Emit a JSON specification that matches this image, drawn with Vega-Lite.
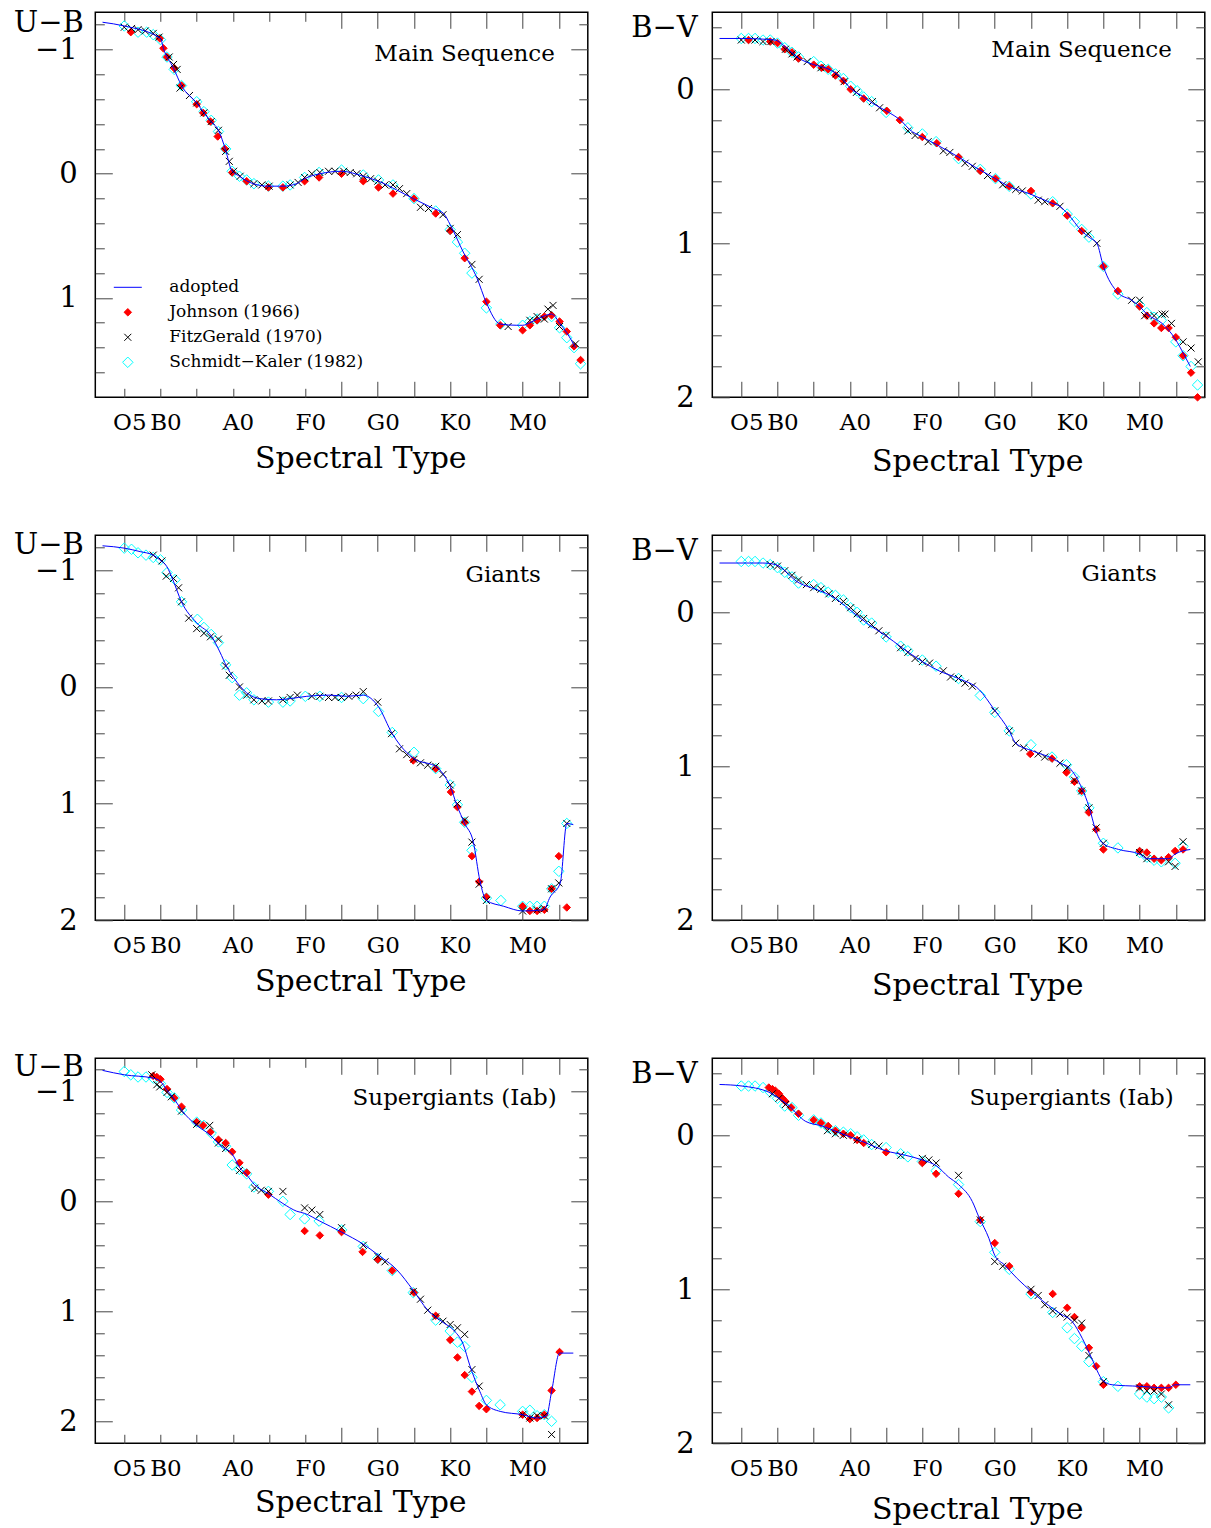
{
"$schema": "https://vega.github.io/schema/vega-lite/v6.json",
"padding": {"left": 12.3, "top": 7.3, "right": 5, "bottom": 5},
"background": "white",
"columns": 2,
"spacing": {"row": 138, "column": 124},
"bounds": "flush",
"resolve": {"scale": {"stroke": "independent", "fill": "independent", "shape": "independent", "size": "independent", "x": "independent", "y": "independent"}},
"datasets": {
"ms_ub": [
{"s":"A","t":2,"v":-1.22},{"s":"A","t":5,"v":-1.19},{"s":"A","t":10,"v":-1.09},{"s":"A","t":10.4,"v":-1.01},{"s":"A","t":11.8,"v":-0.85},{"s":"A","t":12.9,"v":-0.71},{"s":"A","t":15,"v":-0.57},{"s":"A","t":16.8,"v":-0.43},{"s":"A","t":18,"v":-0.35},{"s":"A","t":19,"v":-0.19},{"s":"A","t":19.8,"v":-0.03},{"s":"A","t":20.9,"v":0.02},{"s":"A","t":22.8,"v":0.08},{"s":"A","t":24.9,"v":0.10},{"s":"A","t":26.9,"v":0.10},{"s":"A","t":28.8,"v":0.08},{"s":"A","t":29.9,"v":0.04},{"s":"A","t":32,"v":0.0},{"s":"A","t":35,"v":-0.02},{"s":"A","t":38,"v":0.02},{"s":"A","t":40.1,"v":0.06},{"s":"A","t":42.6,"v":0.13},{"s":"A","t":44.9,"v":0.20},{"s":"A","t":47.7,"v":0.28},{"s":"A","t":49.1,"v":0.32},{"s":"A","t":50,"v":0.41},{"s":"A","t":51.8,"v":0.63},{"s":"A","t":53.7,"v":0.84},{"s":"A","t":55,"v":1.04},{"s":"A","t":56.9,"v":1.21},{"s":"A","t":59.2,"v":1.22},{"s":"A","t":60,"v":1.22},{"s":"A","t":61,"v":1.20},{"s":"A","t":62.4,"v":1.16},{"s":"A","t":64,"v":1.13},{"s":"A","t":65.2,"v":1.21},{"s":"A","t":66.1,"v":1.28},{"s":"A","t":67.3,"v":1.40},
{"s":"S","t":5,"v":-1.19},{"s":"S","t":6.9,"v":-1.14},{"s":"S","t":8.1,"v":-1.14},{"s":"S","t":9,"v":-1.12},{"s":"S","t":10,"v":-1.08},{"s":"S","t":10.9,"v":-0.94},{"s":"S","t":11.9,"v":-0.84},{"s":"S","t":12.9,"v":-0.71},{"s":"S","t":15,"v":-0.58},{"s":"S","t":16,"v":-0.50},{"s":"S","t":17,"v":-0.43},{"s":"S","t":18,"v":-0.34},{"s":"S","t":19,"v":-0.20},{"s":"S","t":19.9,"v":-0.02},{"s":"S","t":20.9,"v":0.02},{"s":"S","t":21.9,"v":0.05},{"s":"S","t":22.9,"v":0.08},{"s":"S","t":24.9,"v":0.10},{"s":"S","t":26.9,"v":0.10},{"s":"S","t":27.9,"v":0.09},{"s":"S","t":29.9,"v":0.03},{"s":"S","t":31.9,"v":-0.01},{"s":"S","t":35,"v":-0.03},{"s":"S","t":38,"v":0.01},{"s":"S","t":40.1,"v":0.05},{"s":"S","t":42.1,"v":0.09},{"s":"S","t":45,"v":0.20},{"s":"S","t":48,"v":0.30},{"s":"S","t":50,"v":0.45},{"s":"S","t":51,"v":0.55},{"s":"S","t":52,"v":0.64},{"s":"S","t":53,"v":0.80},{"s":"S","t":55,"v":1.08},{"s":"S","t":57,"v":1.21},{"s":"S","t":60,"v":1.22},{"s":"S","t":61,"v":1.19},{"s":"S","t":62,"v":1.17},{"s":"S","t":64,"v":1.15},{"s":"S","t":65.1,"v":1.24},{"s":"S","t":66.1,"v":1.32},{"s":"S","t":67.1,"v":1.40},{"s":"S","t":68,"v":1.53},
{"s":"J","t":5.9,"v":-1.14},{"s":"J","t":9.9,"v":-1.09},{"s":"J","t":10.4,"v":-1.01},{"s":"J","t":10.9,"v":-0.94},{"s":"J","t":11.9,"v":-0.85},{"s":"J","t":12.9,"v":-0.71},{"s":"J","t":15,"v":-0.56},{"s":"J","t":15.9,"v":-0.49},{"s":"J","t":16.9,"v":-0.42},{"s":"J","t":17.9,"v":-0.30},{"s":"J","t":18.9,"v":-0.20},{"s":"J","t":19.9,"v":-0.01},{"s":"J","t":21.9,"v":0.06},{"s":"J","t":24.9,"v":0.11},{"s":"J","t":26.9,"v":0.11},{"s":"J","t":29.9,"v":0.06},{"s":"J","t":31.9,"v":0.03},{"s":"J","t":35,"v":0.0},{"s":"J","t":38,"v":0.06},{"s":"J","t":40.1,"v":0.11},{"s":"J","t":42.1,"v":0.16},{"s":"J","t":45,"v":0.20},{"s":"J","t":48,"v":0.32},{"s":"J","t":50,"v":0.46},{"s":"J","t":52,"v":0.68},{"s":"J","t":55,"v":1.03},{"s":"J","t":56.9,"v":1.22},{"s":"J","t":60,"v":1.26},{"s":"J","t":61,"v":1.22},{"s":"J","t":62,"v":1.18},{"s":"J","t":63,"v":1.15},{"s":"J","t":64,"v":1.14},{"s":"J","t":65.1,"v":1.19},{"s":"J","t":66.1,"v":1.27},{"s":"J","t":67.1,"v":1.39},{"s":"J","t":68,"v":1.50},
{"s":"F","t":5,"v":-1.18},{"s":"F","t":6,"v":-1.17},{"s":"F","t":6.9,"v":-1.16},{"s":"F","t":7.9,"v":-1.15},{"s":"F","t":9,"v":-1.13},{"s":"F","t":9.8,"v":-1.10},{"s":"F","t":11.2,"v":-0.94},{"s":"F","t":11.8,"v":-0.88},{"s":"F","t":12.3,"v":-0.84},{"s":"F","t":12.7,"v":-0.69},{"s":"F","t":14,"v":-0.63},{"s":"F","t":15,"v":-0.57},{"s":"F","t":16,"v":-0.49},{"s":"F","t":17,"v":-0.42},{"s":"F","t":18,"v":-0.35},{"s":"F","t":19,"v":-0.18},{"s":"F","t":19.5,"v":-0.10},{"s":"F","t":20.1,"v":-0.02},{"s":"F","t":21,"v":0.02},{"s":"F","t":22.9,"v":0.08},{"s":"F","t":24,"v":0.09},{"s":"F","t":25,"v":0.10},{"s":"F","t":27.9,"v":0.09},{"s":"F","t":29,"v":0.07},{"s":"F","t":29.9,"v":0.03},{"s":"F","t":30.9,"v":0.0},{"s":"F","t":32,"v":-0.01},{"s":"F","t":33.2,"v":-0.02},{"s":"F","t":34.1,"v":-0.02},{"s":"F","t":35.3,"v":-0.02},{"s":"F","t":36.2,"v":-0.01},{"s":"F","t":37.1,"v":0.0},{"s":"F","t":38,"v":0.02},{"s":"F","t":39,"v":0.04},{"s":"F","t":40,"v":0.06},{"s":"F","t":41,"v":0.09},{"s":"F","t":42.1,"v":0.09},{"s":"F","t":43,"v":0.12},{"s":"F","t":44,"v":0.16},{"s":"F","t":45.9,"v":0.27},{"s":"F","t":47,"v":0.28},{"s":"F","t":49,"v":0.33},{"s":"F","t":50,"v":0.44},{"s":"F","t":51,"v":0.49},{"s":"F","t":53,"v":0.73},{"s":"F","t":54,"v":0.85},{"s":"F","t":58,"v":1.23},{"s":"F","t":61,"v":1.18},{"s":"F","t":62,"v":1.15},{"s":"F","t":63,"v":1.17},{"s":"F","t":63.5,"v":1.09},{"s":"F","t":64.2,"v":1.06},{"s":"F","t":65.1,"v":1.23},{"s":"F","t":67.3,"v":1.37}
],
"ms_bv": [
{"s":"A","t":2,"v":-0.33},{"s":"A","t":5,"v":-0.33},{"s":"A","t":9.7,"v":-0.32},{"s":"A","t":10.7,"v":-0.29},{"s":"A","t":13,"v":-0.20},{"s":"A","t":15,"v":-0.16},{"s":"A","t":17.1,"v":-0.13},{"s":"A","t":18.9,"v":-0.07},{"s":"A","t":20.1,"v":-0.005},{"s":"A","t":21.9,"v":0.05},{"s":"A","t":23.1,"v":0.09},{"s":"A","t":25,"v":0.14},{"s":"A","t":27.2,"v":0.21},{"s":"A","t":28.2,"v":0.26},{"s":"A","t":30,"v":0.31},{"s":"A","t":32,"v":0.36},{"s":"A","t":35,"v":0.44},{"s":"A","t":37.8,"v":0.52},{"s":"A","t":40.1,"v":0.58},{"s":"A","t":41.9,"v":0.63},{"s":"A","t":44.9,"v":0.68},{"s":"A","t":47.9,"v":0.74},{"s":"A","t":49,"v":0.76},{"s":"A","t":50.1,"v":0.81},{"s":"A","t":52,"v":0.92},{"s":"A","t":53,"v":0.96},{"s":"A","t":54.1,"v":1.0},{"s":"A","t":55,"v":1.15},{"s":"A","t":57,"v":1.32},{"s":"A","t":58.9,"v":1.37},{"s":"A","t":60,"v":1.41},{"s":"A","t":61,"v":1.46},{"s":"A","t":63.1,"v":1.52},{"s":"A","t":64.9,"v":1.62},{"s":"A","t":66.1,"v":1.72},{"s":"A","t":67,"v":1.80},
{"s":"S","t":5,"v":-0.33},{"s":"S","t":6,"v":-0.33},{"s":"S","t":6.9,"v":-0.33},{"s":"S","t":8,"v":-0.32},{"s":"S","t":9,"v":-0.32},{"s":"S","t":10,"v":-0.30},{"s":"S","t":11,"v":-0.27},{"s":"S","t":12,"v":-0.24},{"s":"S","t":12.9,"v":-0.21},{"s":"S","t":15,"v":-0.18},{"s":"S","t":16,"v":-0.15},{"s":"S","t":17,"v":-0.13},{"s":"S","t":18,"v":-0.10},{"s":"S","t":19.1,"v":-0.07},{"s":"S","t":20.1,"v":-0.02},{"s":"S","t":21,"v":0.01},{"s":"S","t":21.9,"v":0.05},{"s":"S","t":23,"v":0.08},{"s":"S","t":25,"v":0.15},{"s":"S","t":28,"v":0.25},{"s":"S","t":30,"v":0.29},{"s":"S","t":31.9,"v":0.34},{"s":"S","t":35,"v":0.45},{"s":"S","t":38,"v":0.52},{"s":"S","t":40.1,"v":0.58},{"s":"S","t":42,"v":0.63},{"s":"S","t":45,"v":0.68},{"s":"S","t":48,"v":0.73},{"s":"S","t":50,"v":0.81},{"s":"S","t":51,"v":0.86},{"s":"S","t":52,"v":0.91},{"s":"S","t":53,"v":0.96},{"s":"S","t":55,"v":1.15},{"s":"S","t":57,"v":1.33},{"s":"S","t":60,"v":1.40},{"s":"S","t":61,"v":1.45},{"s":"S","t":62,"v":1.48},{"s":"S","t":63,"v":1.50},{"s":"S","t":65,"v":1.64},{"s":"S","t":66,"v":1.73},{"s":"S","t":67.1,"v":1.80},{"s":"S","t":68,"v":1.92},
{"s":"J","t":6,"v":-0.32},{"s":"J","t":9,"v":-0.31},{"s":"J","t":10,"v":-0.30},{"s":"J","t":11,"v":-0.26},{"s":"J","t":12,"v":-0.24},{"s":"J","t":12.9,"v":-0.20},{"s":"J","t":15,"v":-0.16},{"s":"J","t":16.1,"v":-0.14},{"s":"J","t":17,"v":-0.13},{"s":"J","t":18,"v":-0.09},{"s":"J","t":19.1,"v":-0.055},{"s":"J","t":20.1,"v":0.0},{"s":"J","t":21.9,"v":0.06},{"s":"J","t":25.1,"v":0.14},{"s":"J","t":26.9,"v":0.20},{"s":"J","t":30,"v":0.31},{"s":"J","t":32,"v":0.35},{"s":"J","t":35,"v":0.44},{"s":"J","t":38,"v":0.53},{"s":"J","t":40.1,"v":0.58},{"s":"J","t":42,"v":0.63},{"s":"J","t":45,"v":0.66},{"s":"J","t":48,"v":0.74},{"s":"J","t":50,"v":0.82},{"s":"J","t":52,"v":0.92},{"s":"J","t":55,"v":1.15},{"s":"J","t":57,"v":1.31},{"s":"J","t":60,"v":1.41},{"s":"J","t":61,"v":1.47},{"s":"J","t":62,"v":1.52},{"s":"J","t":63,"v":1.55},{"s":"J","t":64,"v":1.55},{"s":"J","t":65,"v":1.61},{"s":"J","t":66,"v":1.73},{"s":"J","t":67.1,"v":1.84},{"s":"J","t":68,"v":2.0},
{"s":"F","t":5,"v":-0.32},{"s":"F","t":6.9,"v":-0.32},{"s":"F","t":8,"v":-0.31},{"s":"F","t":9.1,"v":-0.31},{"s":"F","t":11.1,"v":-0.26},{"s":"F","t":12,"v":-0.23},{"s":"F","t":12.7,"v":-0.21},{"s":"F","t":14.1,"v":-0.18},{"s":"F","t":16,"v":-0.14},{"s":"F","t":18.1,"v":-0.10},{"s":"F","t":19.2,"v":-0.05},{"s":"F","t":20.9,"v":0.02},{"s":"F","t":23.1,"v":0.08},{"s":"F","t":24.1,"v":0.12},{"s":"F","t":28,"v":0.27},{"s":"F","t":29,"v":0.30},{"s":"F","t":30.8,"v":0.34},{"s":"F","t":32.9,"v":0.40},{"s":"F","t":33.8,"v":0.41},{"s":"F","t":35.9,"v":0.48},{"s":"F","t":36.9,"v":0.50},{"s":"F","t":39,"v":0.56},{"s":"F","t":41.1,"v":0.62},{"s":"F","t":42.9,"v":0.65},{"s":"F","t":43.8,"v":0.66},{"s":"F","t":46,"v":0.72},{"s":"F","t":46.9,"v":0.73},{"s":"F","t":49,"v":0.76},{"s":"F","t":52.9,"v":0.94},{"s":"F","t":54.1,"v":1.0},{"s":"F","t":58.9,"v":1.37},{"s":"F","t":60,"v":1.37},{"s":"F","t":60.7,"v":1.47},{"s":"F","t":62,"v":1.47},{"s":"F","t":63.1,"v":1.46},{"s":"F","t":63.5,"v":1.46},{"s":"F","t":64.4,"v":1.52},{"s":"F","t":66,"v":1.64},{"s":"F","t":67.1,"v":1.68},{"s":"F","t":68.1,"v":1.77}
],
"g_ub": [
{"s":"A","t":2,"v":-1.21},{"s":"A","t":5,"v":-1.19},{"s":"A","t":7.2,"v":-1.16},{"s":"A","t":9,"v":-1.13},{"s":"A","t":9.9,"v":-1.09},{"s":"A","t":10.9,"v":-1.03},{"s":"A","t":11.7,"v":-0.92},{"s":"A","t":12.9,"v":-0.73},{"s":"A","t":15,"v":-0.55},{"s":"A","t":17.1,"v":-0.43},{"s":"A","t":18.2,"v":-0.30},{"s":"A","t":19.1,"v":-0.18},{"s":"A","t":20.1,"v":-0.08},{"s":"A","t":21.9,"v":0.05},{"s":"A","t":23.7,"v":0.10},{"s":"A","t":26,"v":0.11},{"s":"A","t":27.9,"v":0.10},{"s":"A","t":30.2,"v":0.08},{"s":"A","t":33.4,"v":0.07},{"s":"A","t":35.7,"v":0.08},{"s":"A","t":38,"v":0.07},{"s":"A","t":40.1,"v":0.17},{"s":"A","t":42,"v":0.40},{"s":"A","t":43.1,"v":0.50},{"s":"A","t":44.9,"v":0.61},{"s":"A","t":48.2,"v":0.69},{"s":"A","t":49.3,"v":0.77},{"s":"A","t":50,"v":0.85},{"s":"A","t":50.9,"v":1.01},{"s":"A","t":52,"v":1.17},{"s":"A","t":53.2,"v":1.33},{"s":"A","t":54.1,"v":1.66},{"s":"A","t":55,"v":1.83},{"s":"A","t":57.4,"v":1.88},{"s":"A","t":60,"v":1.92},{"s":"A","t":62.9,"v":1.91},{"s":"A","t":63.8,"v":1.80},{"s":"A","t":65.2,"v":1.68},{"s":"A","t":66.1,"v":1.17},{"s":"A","t":67,"v":1.18},
{"s":"S","t":5,"v":-1.19},{"s":"S","t":6,"v":-1.18},{"s":"S","t":6.9,"v":-1.15},{"s":"S","t":8,"v":-1.13},{"s":"S","t":9,"v":-1.11},{"s":"S","t":10,"v":-1.09},{"s":"S","t":10.9,"v":-0.98},{"s":"S","t":12,"v":-0.92},{"s":"S","t":12.9,"v":-0.73},{"s":"S","t":15.1,"v":-0.58},{"s":"S","t":16,"v":-0.51},{"s":"S","t":17,"v":-0.45},{"s":"S","t":18,"v":-0.38},{"s":"S","t":19,"v":-0.19},{"s":"S","t":19.9,"v":-0.08},{"s":"S","t":20.9,"v":0.07},{"s":"S","t":21.9,"v":0.05},{"s":"S","t":22.9,"v":0.11},{"s":"S","t":24.9,"v":0.13},{"s":"S","t":26.9,"v":0.13},{"s":"S","t":27.9,"v":0.12},{"s":"S","t":30,"v":0.08},{"s":"S","t":32,"v":0.08},{"s":"S","t":35,"v":0.09},{"s":"S","t":38,"v":0.10},{"s":"S","t":40.1,"v":0.21},{"s":"S","t":42,"v":0.39},{"s":"S","t":45,"v":0.56},{"s":"S","t":48,"v":0.70},{"s":"S","t":50,"v":0.84},{"s":"S","t":51,"v":1.01},{"s":"S","t":52,"v":1.16},{"s":"S","t":53,"v":1.40},{"s":"S","t":55,"v":1.81},{"s":"S","t":57,"v":1.83},{"s":"S","t":60,"v":1.88},{"s":"S","t":61,"v":1.88},{"s":"S","t":62,"v":1.88},{"s":"S","t":63,"v":1.88},{"s":"S","t":64,"v":1.73},{"s":"S","t":65,"v":1.58},{"s":"S","t":66.1,"v":1.17},
{"s":"J","t":44.9,"v":0.63},{"s":"J","t":48,"v":0.70},{"s":"J","t":50.1,"v":0.90},{"s":"J","t":51,"v":1.03},{"s":"J","t":52,"v":1.16},{"s":"J","t":53,"v":1.45},{"s":"J","t":54,"v":1.67},{"s":"J","t":55,"v":1.80},{"s":"J","t":60,"v":1.88},{"s":"J","t":61,"v":1.92},{"s":"J","t":62,"v":1.92},{"s":"J","t":63,"v":1.91},{"s":"J","t":64,"v":1.73},{"s":"J","t":65,"v":1.45},{"s":"J","t":66.1,"v":1.89},
{"s":"F","t":9,"v":-1.13},{"s":"F","t":10.2,"v":-1.08},{"s":"F","t":10.8,"v":-0.95},{"s":"F","t":11.8,"v":-0.93},{"s":"F","t":12.5,"v":-0.85},{"s":"F","t":12.9,"v":-0.73},{"s":"F","t":13.9,"v":-0.59},{"s":"F","t":15,"v":-0.50},{"s":"F","t":16,"v":-0.46},{"s":"F","t":16.9,"v":-0.43},{"s":"F","t":18,"v":-0.41},{"s":"F","t":19,"v":-0.18},{"s":"F","t":19.5,"v":-0.10},{"s":"F","t":20.9,"v":0.0},{"s":"F","t":21.9,"v":0.07},{"s":"F","t":22.9,"v":0.11},{"s":"F","t":24,"v":0.12},{"s":"F","t":24.9,"v":0.12},{"s":"F","t":26.9,"v":0.11},{"s":"F","t":27.9,"v":0.09},{"s":"F","t":28.9,"v":0.07},{"s":"F","t":30.9,"v":0.08},{"s":"F","t":32,"v":0.08},{"s":"F","t":33.2,"v":0.09},{"s":"F","t":34.1,"v":0.09},{"s":"F","t":35,"v":0.09},{"s":"F","t":36,"v":0.08},{"s":"F","t":37,"v":0.07},{"s":"F","t":38,"v":0.04},{"s":"F","t":40,"v":0.13},{"s":"F","t":41.9,"v":0.40},{"s":"F","t":43,"v":0.53},{"s":"F","t":44,"v":0.58},{"s":"F","t":45,"v":0.62},{"s":"F","t":45.9,"v":0.65},{"s":"F","t":46.9,"v":0.67},{"s":"F","t":48,"v":0.68},{"s":"F","t":49,"v":0.75},{"s":"F","t":50,"v":0.84},{"s":"F","t":51,"v":1.0},{"s":"F","t":52,"v":1.14},{"s":"F","t":53,"v":1.33},{"s":"F","t":54,"v":1.69},{"s":"F","t":55,"v":1.83},{"s":"F","t":60,"v":1.92},{"s":"F","t":62,"v":1.91},{"s":"F","t":63,"v":1.90},{"s":"F","t":64,"v":1.73},{"s":"F","t":65,"v":1.68},{"s":"F","t":66.1,"v":1.17}
],
"g_bv": [
{"s":"A","t":2,"v":-0.32},{"s":"A","t":7.9,"v":-0.32},{"s":"A","t":9.7,"v":-0.31},{"s":"A","t":13,"v":-0.19},{"s":"A","t":15.3,"v":-0.15},{"s":"A","t":18,"v":-0.09},{"s":"A","t":19.9,"v":-0.02},{"s":"A","t":22.6,"v":0.08},{"s":"A","t":24.9,"v":0.15},{"s":"A","t":27.2,"v":0.23},{"s":"A","t":30,"v":0.32},{"s":"A","t":32.3,"v":0.38},{"s":"A","t":35,"v":0.43},{"s":"A","t":37.8,"v":0.50},{"s":"A","t":39.9,"v":0.63},{"s":"A","t":42,"v":0.77},{"s":"A","t":42.9,"v":0.85},{"s":"A","t":45.2,"v":0.90},{"s":"A","t":48,"v":0.95},{"s":"A","t":49.1,"v":0.98},{"s":"A","t":50.3,"v":1.01},{"s":"A","t":52.1,"v":1.15},{"s":"A","t":53,"v":1.26},{"s":"A","t":53.9,"v":1.41},{"s":"A","t":54.9,"v":1.50},{"s":"A","t":57.1,"v":1.54},{"s":"A","t":60,"v":1.57},{"s":"A","t":61,"v":1.60},{"s":"A","t":64,"v":1.60},{"s":"A","t":64.9,"v":1.57},{"s":"A","t":67,"v":1.54},
{"s":"S","t":5,"v":-0.33},{"s":"S","t":6,"v":-0.33},{"s":"S","t":6.9,"v":-0.33},{"s":"S","t":8,"v":-0.32},{"s":"S","t":9,"v":-0.31},{"s":"S","t":10,"v":-0.29},{"s":"S","t":11,"v":-0.26},{"s":"S","t":12,"v":-0.23},{"s":"S","t":12.9,"v":-0.19},{"s":"S","t":15,"v":-0.18},{"s":"S","t":16,"v":-0.16},{"s":"S","t":17,"v":-0.13},{"s":"S","t":18,"v":-0.11},{"s":"S","t":19.1,"v":-0.08},{"s":"S","t":20.1,"v":-0.03},{"s":"S","t":21,"v":0.0},{"s":"S","t":21.9,"v":0.05},{"s":"S","t":23,"v":0.07},{"s":"S","t":25,"v":0.16},{"s":"S","t":27,"v":0.22},{"s":"S","t":28,"v":0.25},{"s":"S","t":30,"v":0.31},{"s":"S","t":31.9,"v":0.35},{"s":"S","t":35,"v":0.43},{"s":"S","t":38,"v":0.54},{"s":"S","t":40,"v":0.65},{"s":"S","t":42,"v":0.77},{"s":"S","t":45,"v":0.86},{"s":"S","t":47.9,"v":0.94},{"s":"S","t":49.9,"v":0.99},{"s":"S","t":51,"v":1.07},{"s":"S","t":52,"v":1.16},{"s":"S","t":53,"v":1.27},{"s":"S","t":55,"v":1.50},{"s":"S","t":57,"v":1.53},{"s":"S","t":60,"v":1.56},{"s":"S","t":61,"v":1.59},{"s":"S","t":62,"v":1.61},{"s":"S","t":63,"v":1.62},{"s":"S","t":64.9,"v":1.63},{"s":"S","t":66,"v":1.52},
{"s":"J","t":44.9,"v":0.92},{"s":"J","t":47.9,"v":0.95},{"s":"J","t":49.9,"v":1.04},{"s":"J","t":51,"v":1.10},{"s":"J","t":52,"v":1.16},{"s":"J","t":53,"v":1.30},{"s":"J","t":54,"v":1.41},{"s":"J","t":55,"v":1.54},{"s":"J","t":60,"v":1.55},{"s":"J","t":61,"v":1.56},{"s":"J","t":62,"v":1.60},{"s":"J","t":63,"v":1.61},{"s":"J","t":64,"v":1.59},{"s":"J","t":64.9,"v":1.55},{"s":"J","t":66,"v":1.54},
{"s":"F","t":9,"v":-0.31},{"s":"F","t":10,"v":-0.30},{"s":"F","t":11,"v":-0.27},{"s":"F","t":12,"v":-0.24},{"s":"F","t":12.9,"v":-0.21},{"s":"F","t":14,"v":-0.18},{"s":"F","t":15,"v":-0.16},{"s":"F","t":16,"v":-0.15},{"s":"F","t":17.1,"v":-0.12},{"s":"F","t":18,"v":-0.09},{"s":"F","t":19.1,"v":-0.07},{"s":"F","t":20.1,"v":-0.03},{"s":"F","t":21,"v":0.01},{"s":"F","t":21.9,"v":0.04},{"s":"F","t":23,"v":0.08},{"s":"F","t":24,"v":0.12},{"s":"F","t":25,"v":0.15},{"s":"F","t":27,"v":0.23},{"s":"F","t":28,"v":0.26},{"s":"F","t":29,"v":0.30},{"s":"F","t":30,"v":0.32},{"s":"F","t":31,"v":0.33},{"s":"F","t":32.9,"v":0.38},{"s":"F","t":33.9,"v":0.42},{"s":"F","t":35,"v":0.43},{"s":"F","t":35.9,"v":0.46},{"s":"F","t":36.9,"v":0.48},{"s":"F","t":40,"v":0.64},{"s":"F","t":42,"v":0.77},{"s":"F","t":42.9,"v":0.85},{"s":"F","t":44,"v":0.88},{"s":"F","t":46,"v":0.92},{"s":"F","t":46.9,"v":0.94},{"s":"F","t":49,"v":0.98},{"s":"F","t":50,"v":1.01},{"s":"F","t":51,"v":1.09},{"s":"F","t":52,"v":1.16},{"s":"F","t":53,"v":1.27},{"s":"F","t":54,"v":1.40},{"s":"F","t":55,"v":1.50},{"s":"F","t":60,"v":1.56},{"s":"F","t":61,"v":1.60},{"s":"F","t":64,"v":1.62},{"s":"F","t":64.9,"v":1.65},{"s":"F","t":66,"v":1.49}
],
"sg_ub": [
{"s":"A","t":2,"v":-1.19},{"s":"A","t":5,"v":-1.15},{"s":"A","t":9,"v":-1.12},{"s":"A","t":10,"v":-1.09},{"s":"A","t":10.9,"v":-1.01},{"s":"A","t":11.8,"v":-0.94},{"s":"A","t":12.9,"v":-0.83},{"s":"A","t":15,"v":-0.69},{"s":"A","t":16.9,"v":-0.60},{"s":"A","t":18.2,"v":-0.51},{"s":"A","t":20,"v":-0.42},{"s":"A","t":20.9,"v":-0.31},{"s":"A","t":21.9,"v":-0.24},{"s":"A","t":23,"v":-0.15},{"s":"A","t":24.9,"v":-0.07},{"s":"A","t":26.9,"v":0.02},{"s":"A","t":28.8,"v":0.09},{"s":"A","t":29.9,"v":0.11},{"s":"A","t":32,"v":0.18},{"s":"A","t":35,"v":0.28},{"s":"A","t":38,"v":0.39},{"s":"A","t":40.1,"v":0.49},{"s":"A","t":42.6,"v":0.62},{"s":"A","t":44.9,"v":0.81},{"s":"A","t":46.9,"v":0.99},{"s":"A","t":49,"v":1.10},{"s":"A","t":50.6,"v":1.18},{"s":"A","t":51.8,"v":1.30},{"s":"A","t":52.7,"v":1.49},{"s":"A","t":54.1,"v":1.73},{"s":"A","t":55,"v":1.85},{"s":"A","t":56.9,"v":1.91},{"s":"A","t":60,"v":1.94},{"s":"A","t":61.9,"v":1.97},{"s":"A","t":63.3,"v":1.95},{"s":"A","t":64,"v":1.73},{"s":"A","t":65.1,"v":1.38},{"s":"A","t":67,"v":1.38},
{"s":"S","t":5,"v":-1.18},{"s":"S","t":5.9,"v":-1.15},{"s":"S","t":6.9,"v":-1.13},{"s":"S","t":8,"v":-1.13},{"s":"S","t":9,"v":-1.12},{"s":"S","t":10,"v":-1.07},{"s":"S","t":10.9,"v":-0.99},{"s":"S","t":11.9,"v":-0.94},{"s":"S","t":12.9,"v":-0.83},{"s":"S","t":15,"v":-0.72},{"s":"S","t":16,"v":-0.69},{"s":"S","t":17,"v":-0.62},{"s":"S","t":18,"v":-0.54},{"s":"S","t":19,"v":-0.50},{"s":"S","t":19.9,"v":-0.33},{"s":"S","t":20.9,"v":-0.29},{"s":"S","t":21.9,"v":-0.25},{"s":"S","t":22.9,"v":-0.13},{"s":"S","t":24.9,"v":-0.09},{"s":"S","t":26.9,"v":0.0},{"s":"S","t":27.9,"v":0.12},{"s":"S","t":29.9,"v":0.16},{"s":"S","t":31.9,"v":0.18},{"s":"S","t":35,"v":0.26},{"s":"S","t":38,"v":0.41},{"s":"S","t":40,"v":0.52},{"s":"S","t":42,"v":0.63},{"s":"S","t":44.9,"v":0.83},{"s":"S","t":48,"v":1.08},{"s":"S","t":50,"v":1.18},{"s":"S","t":51,"v":1.28},{"s":"S","t":52,"v":1.32},{"s":"S","t":53,"v":1.60},{"s":"S","t":55,"v":1.81},{"s":"S","t":56.9,"v":1.85},{"s":"S","t":60,"v":1.91},{"s":"S","t":61,"v":1.90},{"s":"S","t":62,"v":1.95},{"s":"S","t":63,"v":1.94},{"s":"S","t":64,"v":2.0},
{"s":"J","t":9,"v":-1.14},{"s":"J","t":9.5,"v":-1.13},{"s":"J","t":10,"v":-1.11},{"s":"J","t":10.9,"v":-1.02},{"s":"J","t":11.9,"v":-0.94},{"s":"J","t":12.9,"v":-0.86},{"s":"J","t":15,"v":-0.72},{"s":"J","t":15.9,"v":-0.69},{"s":"J","t":16.9,"v":-0.63},{"s":"J","t":18,"v":-0.56},{"s":"J","t":19,"v":-0.53},{"s":"J","t":19.9,"v":-0.45},{"s":"J","t":20.9,"v":-0.35},{"s":"J","t":21.9,"v":-0.26},{"s":"J","t":24.9,"v":-0.06},{"s":"J","t":29.9,"v":0.27},{"s":"J","t":32,"v":0.31},{"s":"J","t":35,"v":0.28},{"s":"J","t":37.9,"v":0.46},{"s":"J","t":40,"v":0.53},{"s":"J","t":42,"v":0.63},{"s":"J","t":45,"v":0.83},{"s":"J","t":48,"v":1.04},{"s":"J","t":50,"v":1.26},{"s":"J","t":51,"v":1.42},{"s":"J","t":52,"v":1.58},{"s":"J","t":53,"v":1.73},{"s":"J","t":54,"v":1.86},{"s":"J","t":55,"v":1.89},{"s":"J","t":60,"v":1.94},{"s":"J","t":61,"v":1.98},{"s":"J","t":62,"v":1.97},{"s":"J","t":63,"v":1.94},{"s":"J","t":64,"v":1.72},{"s":"J","t":65.1,"v":1.37},
{"s":"F","t":8.8,"v":-1.15},{"s":"F","t":9.5,"v":-1.06},{"s":"F","t":9.9,"v":-1.04},{"s":"F","t":10.9,"v":-0.99},{"s":"F","t":11.5,"v":-0.95},{"s":"F","t":12.9,"v":-0.82},{"s":"F","t":15,"v":-0.70},{"s":"F","t":16.8,"v":-0.69},{"s":"F","t":18,"v":-0.53},{"s":"F","t":19,"v":-0.48},{"s":"F","t":20.9,"v":-0.28},{"s":"F","t":23,"v":-0.12},{"s":"F","t":23.9,"v":-0.10},{"s":"F","t":24.9,"v":-0.09},{"s":"F","t":26.9,"v":-0.09},{"s":"F","t":29.9,"v":0.06},{"s":"F","t":30.9,"v":0.08},{"s":"F","t":32,"v":0.12},{"s":"F","t":35,"v":0.24},{"s":"F","t":38,"v":0.40},{"s":"F","t":40,"v":0.50},{"s":"F","t":41,"v":0.55},{"s":"F","t":44.9,"v":0.82},{"s":"F","t":45.9,"v":0.89},{"s":"F","t":46.9,"v":0.99},{"s":"F","t":48,"v":1.05},{"s":"F","t":49,"v":1.09},{"s":"F","t":50,"v":1.12},{"s":"F","t":51,"v":1.15},{"s":"F","t":52,"v":1.21},{"s":"F","t":53,"v":1.53},{"s":"F","t":54,"v":1.68},{"s":"F","t":60,"v":1.94},{"s":"F","t":61,"v":1.97},{"s":"F","t":62,"v":1.95},{"s":"F","t":63,"v":1.95},{"s":"F","t":64,"v":2.12}
],
"sg_bv": [
{"s":"A","t":2,"v":-0.33},{"s":"A","t":5.1,"v":-0.32},{"s":"A","t":8.8,"v":-0.28},{"s":"A","t":10.2,"v":-0.24},{"s":"A","t":11.6,"v":-0.19},{"s":"A","t":13.9,"v":-0.09},{"s":"A","t":16.2,"v":-0.06},{"s":"A","t":18.9,"v":-0.01},{"s":"A","t":21.7,"v":0.04},{"s":"A","t":24.9,"v":0.10},{"s":"A","t":27.7,"v":0.13},{"s":"A","t":30,"v":0.16},{"s":"A","t":32,"v":0.20},{"s":"A","t":33.6,"v":0.27},{"s":"A","t":35,"v":0.32},{"s":"A","t":36.9,"v":0.43},{"s":"A","t":37.8,"v":0.53},{"s":"A","t":39.2,"v":0.67},{"s":"A","t":40,"v":0.78},{"s":"A","t":41.3,"v":0.84},{"s":"A","t":43.1,"v":0.93},{"s":"A","t":45.2,"v":1.02},{"s":"A","t":47,"v":1.09},{"s":"A","t":49.1,"v":1.16},{"s":"A","t":50.7,"v":1.21},{"s":"A","t":52.1,"v":1.32},{"s":"A","t":53.4,"v":1.45},{"s":"A","t":54.9,"v":1.59},{"s":"A","t":56.2,"v":1.62},{"s":"A","t":60,"v":1.63},{"s":"A","t":64,"v":1.64},{"s":"A","t":64.9,"v":1.62},{"s":"A","t":67,"v":1.62},
{"s":"S","t":5,"v":-0.32},{"s":"S","t":6,"v":-0.32},{"s":"S","t":6.9,"v":-0.32},{"s":"S","t":8,"v":-0.31},{"s":"S","t":9,"v":-0.28},{"s":"S","t":10,"v":-0.24},{"s":"S","t":11,"v":-0.19},{"s":"S","t":12,"v":-0.18},{"s":"S","t":12.9,"v":-0.13},{"s":"S","t":15,"v":-0.10},{"s":"S","t":16,"v":-0.08},{"s":"S","t":17,"v":-0.05},{"s":"S","t":18,"v":-0.03},{"s":"S","t":19.1,"v":-0.02},{"s":"S","t":20.1,"v":-0.01},{"s":"S","t":21,"v":0.01},{"s":"S","t":21.9,"v":0.03},{"s":"S","t":23,"v":0.06},{"s":"S","t":25,"v":0.08},{"s":"S","t":27,"v":0.12},{"s":"S","t":28,"v":0.14},{"s":"S","t":30,"v":0.17},{"s":"S","t":31.9,"v":0.23},{"s":"S","t":35,"v":0.32},{"s":"S","t":38,"v":0.56},{"s":"S","t":40,"v":0.76},{"s":"S","t":42,"v":0.87},{"s":"S","t":45,"v":1.03},{"s":"S","t":48,"v":1.15},{"s":"S","t":50,"v":1.25},{"s":"S","t":51,"v":1.32},{"s":"S","t":52,"v":1.37},{"s":"S","t":53,"v":1.47},{"s":"S","t":55,"v":1.60},{"s":"S","t":57,"v":1.63},{"s":"S","t":60,"v":1.68},{"s":"S","t":61,"v":1.70},{"s":"S","t":62,"v":1.71},{"s":"S","t":63,"v":1.70},{"s":"S","t":64,"v":1.77},
{"s":"J","t":8.8,"v":-0.31},{"s":"J","t":9.3,"v":-0.30},{"s":"J","t":9.7,"v":-0.29},{"s":"J","t":10.2,"v":-0.27},{"s":"J","t":10.7,"v":-0.24},{"s":"J","t":11.1,"v":-0.22},{"s":"J","t":11.9,"v":-0.18},{"s":"J","t":12.9,"v":-0.14},{"s":"J","t":15,"v":-0.10},{"s":"J","t":16,"v":-0.08},{"s":"J","t":17,"v":-0.06},{"s":"J","t":18,"v":-0.03},{"s":"J","t":19.1,"v":-0.01},{"s":"J","t":20.1,"v":0.0},{"s":"J","t":21,"v":0.03},{"s":"J","t":21.9,"v":0.05},{"s":"J","t":25,"v":0.11},{"s":"J","t":30,"v":0.18},{"s":"J","t":31.9,"v":0.25},{"s":"J","t":35,"v":0.38},{"s":"J","t":38,"v":0.55},{"s":"J","t":40,"v":0.70},{"s":"J","t":42,"v":0.85},{"s":"J","t":45,"v":1.02},{"s":"J","t":48,"v":1.03},{"s":"J","t":50,"v":1.12},{"s":"J","t":51,"v":1.18},{"s":"J","t":52,"v":1.25},{"s":"J","t":53,"v":1.38},{"s":"J","t":54,"v":1.50},{"s":"J","t":55,"v":1.62},{"s":"J","t":60,"v":1.63},{"s":"J","t":61,"v":1.63},{"s":"J","t":62,"v":1.64},{"s":"J","t":63,"v":1.64},{"s":"J","t":64,"v":1.64},{"s":"J","t":65,"v":1.62},
{"s":"F","t":9.3,"v":-0.27},{"s":"F","t":10.2,"v":-0.24},{"s":"F","t":11.1,"v":-0.20},{"s":"F","t":16.9,"v":-0.03},{"s":"F","t":18,"v":-0.01},{"s":"F","t":19.1,"v":0.0},{"s":"F","t":21,"v":0.03},{"s":"F","t":23,"v":0.06},{"s":"F","t":24,"v":0.07},{"s":"F","t":27,"v":0.13},{"s":"F","t":30,"v":0.15},{"s":"F","t":30.9,"v":0.16},{"s":"F","t":31.9,"v":0.18},{"s":"F","t":35,"v":0.26},{"s":"F","t":38,"v":0.55},{"s":"F","t":40,"v":0.82},{"s":"F","t":41.1,"v":0.85},{"s":"F","t":45,"v":1.0},{"s":"F","t":46,"v":1.04},{"s":"F","t":46.9,"v":1.10},{"s":"F","t":48,"v":1.14},{"s":"F","t":49,"v":1.16},{"s":"F","t":50,"v":1.18},{"s":"F","t":51,"v":1.20},{"s":"F","t":52,"v":1.22},{"s":"F","t":53,"v":1.43},{"s":"F","t":55,"v":1.60},{"s":"F","t":60,"v":1.64},{"s":"F","t":61,"v":1.66},{"s":"F","t":62,"v":1.66},{"s":"F","t":63,"v":1.68},{"s":"F","t":64,"v":1.75}
]
},
"concat": [
{
"width": 492.5, "height": 385,
"data": {"name": "ms_ub"},
"title": {"text": "Main Sequence", "anchor": "end", "frame": "group", "orient": "top", "offset": -75, "baseline": "alphabetic", "dx": -33, "font": "DejaVu Serif", "fontSize": 23, "fontWeight": "normal", "color": "black"},
"resolve": {"axis": {"x": "independent", "y": "independent"}},
"layer": [
{"transform": [{"filter": "datum.s !== 'A'"}],
"mark": {"type": "point", "opacity": 1, "strokeWidth": 1, "filled": false},
"encoding": {
"x": {"field": "t", "type": "quantitative", "scale": {"domain": [1, 69], "nice": false, "zero": false}, "axis": {"orient": "top", "values": [5,10,15,20,25,30,35,40,45,50,55,60,65], "tickSize": {"condition": {"test": "datum.value <= 30", "value": -9}, "value": -16}, "labels": false, "title": null}},
"y": {"field": "v", "type": "quantitative", "scale": {"domain": [-1.3, 1.8], "reverse": true, "nice": false, "zero": false}, "axis": {"orient": "right", "values": [-1.2,-1,-0.8,-0.6,-0.4,-0.2,0,0.2,0.4,0.6,0.8,1,1.2,1.4,1.6], "tickSize": {"condition": {"test": "datum.value % 1 === 0", "value": -17}, "value": -9}, "labels": false, "title": null}},
"stroke": {"field": "s", "type": "nominal", "scale": {"domain": ["A","J","F","S"], "range": ["#0000ff","#ff0000","#000000","#00ffff"]}, "legend": {"orient": "none", "legendX": 18, "legendY": 260.5, "title": null, "labelFont": "DejaVu Serif", "labelFontSize": 17, "labelColor": "black", "labelOffset": 27, "labelLimit": 400, "rowPadding": 7, "symbolStrokeWidth": 1, "labelExpr": "datum.label == 'A' ? 'adopted' : datum.label == 'J' ? 'Johnson (1966)' : datum.label == 'F' ? 'FitzGerald (1970)' : 'Schmidt−Kaler (1982)'"}},
"fill": {"field": "s", "type": "nominal", "scale": {"domain": ["A","J","F","S"], "range": ["transparent","#ff0000","transparent","transparent"]}, "legend": {"orient": "none", "legendX": 18, "legendY": 260.5, "title": null, "labelFont": "DejaVu Serif", "labelFontSize": 17, "labelColor": "black", "labelOffset": 27, "labelLimit": 400, "rowPadding": 7, "symbolStrokeWidth": 1, "labelExpr": "datum.label == 'A' ? 'adopted' : datum.label == 'J' ? 'Johnson (1966)' : datum.label == 'F' ? 'FitzGerald (1970)' : 'Schmidt−Kaler (1982)'"}},
"shape": {"field": "s", "type": "nominal", "scale": {"domain": ["A","J","F","S"], "range": ["stroke","diamond","M-1,-1L1,1M-1,1L1,-1","diamond"]}, "legend": {"orient": "none", "legendX": 18, "legendY": 260.5, "title": null, "labelFont": "DejaVu Serif", "labelFontSize": 17, "labelColor": "black", "labelOffset": 27, "labelLimit": 400, "rowPadding": 7, "symbolStrokeWidth": 1, "labelExpr": "datum.label == 'A' ? 'adopted' : datum.label == 'J' ? 'Johnson (1966)' : datum.label == 'F' ? 'FitzGerald (1970)' : 'Schmidt−Kaler (1982)'"}},
"size": {"field": "s", "type": "nominal", "scale": {"type": "ordinal", "domain": ["A","J","F","S"], "range": [784, 56, 49, 110]}, "legend": {"orient": "none", "legendX": 18, "legendY": 260.5, "title": null, "labelFont": "DejaVu Serif", "labelFontSize": 17, "labelColor": "black", "labelOffset": 27, "labelLimit": 400, "rowPadding": 7, "symbolStrokeWidth": 1, "labelExpr": "datum.label == 'A' ? 'adopted' : datum.label == 'J' ? 'Johnson (1966)' : datum.label == 'F' ? 'FitzGerald (1970)' : 'Schmidt−Kaler (1982)'"}}
}},
{"transform": [{"filter": "datum.s === 'A'"}],
"mark": {"type": "line", "strokeWidth": 1, "interpolate": "monotone"},
"encoding": {
"x": {"field": "t", "type": "quantitative", "scale": {"domain": [1, 69], "nice": false, "zero": false}, "axis": {"orient": "bottom", "values": [5,10,15,20,25,30,35,40,45,50,55,60,65], "tickSize": {"condition": {"test": "datum.value <= 30", "value": -9}, "value": -16}, "labelPadding": {"condition": {"test": "datum.value <= 30", "value": 41}, "value": 48}, "labelExpr": "datum.value == 5 ? 'O5' : datum.value == 10 ? 'B0' : datum.value == 20 ? 'A0' : datum.value == 30 ? 'F0' : datum.value == 40 ? 'G0' : datum.value == 50 ? 'K0' : datum.value == 60 ? 'M0' : ''", "labelFontSize": 23, "labelBaseline": "alphabetic", "labelOffset": 5, "title": "Spectral Type", "titleFontSize": 30, "titleX": 265, "titleY": 70, "titleBaseline": "alphabetic", "titleAlign": "center"}},
"y": {"field": "v", "type": "quantitative", "scale": {"domain": [-1.3, 1.8], "reverse": true, "nice": false, "zero": false}, "axis": {"orient": "left", "values": [-1.2,-1,-0.8,-0.6,-0.4,-0.2,0,0.2,0.4,0.6,0.8,1,1.2,1.4,1.6], "tickSize": {"condition": {"test": "datum.value % 1 === 0", "value": -17}, "value": -9}, "labelPadding": 35, "labelExpr": "datum.value % 1 === 0 ? format(datum.value, 'd') : ''", "labelFontSize": 29, "title": "U−B", "titleAngle": 0, "titleAlign": "right", "titleBaseline": "alphabetic", "titleX": -12, "titleY": 19.5, "titleFontSize": 29}},
"stroke": {"field": "s", "type": "nominal", "scale": {"domain": ["A","J","F","S"], "range": ["#0000ff","#ff0000","#000000","#00ffff"]}, "legend": {"orient": "none", "legendX": 18, "legendY": 260.5, "title": null, "labelFont": "DejaVu Serif", "labelFontSize": 17, "labelColor": "black", "labelOffset": 27, "labelLimit": 400, "rowPadding": 7, "symbolStrokeWidth": 1, "labelExpr": "datum.label == 'A' ? 'adopted' : datum.label == 'J' ? 'Johnson (1966)' : datum.label == 'F' ? 'FitzGerald (1970)' : 'Schmidt−Kaler (1982)'"}}
}}
]
},
{
"width": 492.5, "height": 385,
"data": {"name": "ms_bv"},
"title": {"text": "Main Sequence", "anchor": "end", "frame": "group", "orient": "top", "offset": -68.5, "baseline": "alphabetic", "dx": -33, "font": "DejaVu Serif", "fontSize": 23, "fontWeight": "normal", "color": "black"},
"resolve": {"axis": {"x": "independent", "y": "independent"}},
"layer": [
{"transform": [{"filter": "datum.s !== 'A'"}],
"mark": {"type": "point", "opacity": 1, "strokeWidth": 1, "filled": false},
"encoding": {
"x": {"field": "t", "type": "quantitative", "scale": {"domain": [1, 69], "nice": false, "zero": false}, "axis": {"orient": "top", "values": [5,10,15,20,25,30,35,40,45,50,55,60,65], "tickSize": -16, "labels": false, "title": null}},
"y": {"field": "v", "type": "quantitative", "scale": {"domain": [-0.5, 2], "reverse": true, "nice": false, "zero": false}, "axis": {"orient": "right", "values": [-0.4,-0.2,0,0.2,0.4,0.6,0.8,1,1.2,1.4,1.6,1.8,2], "tickSize": {"condition": {"test": "datum.value % 1 === 0", "value": -17}, "value": -9}, "labels": false, "title": null}},
"stroke": {"field": "s", "type": "nominal", "scale": {"domain": ["A","J","F","S"], "range": ["#0000ff","#ff0000","#000000","#00ffff"]}, "legend": null},
"fill": {"field": "s", "type": "nominal", "scale": {"domain": ["A","J","F","S"], "range": ["transparent","#ff0000","transparent","transparent"]}, "legend": null},
"shape": {"field": "s", "type": "nominal", "scale": {"domain": ["A","J","F","S"], "range": ["stroke","diamond","M-1,-1L1,1M-1,1L1,-1","diamond"]}, "legend": null},
"size": {"field": "s", "type": "nominal", "scale": {"type": "ordinal", "domain": ["A","J","F","S"], "range": [784, 56, 49, 110]}, "legend": null}
}},
{"transform": [{"filter": "datum.s === 'A'"}],
"mark": {"type": "line", "strokeWidth": 1, "interpolate": "monotone"},
"encoding": {
"x": {"field": "t", "type": "quantitative", "scale": {"domain": [1, 69], "nice": false, "zero": false}, "axis": {"orient": "bottom", "values": [5,10,15,20,25,30,35,40,45,50,55,60,65], "tickSize": -16, "labelPadding": 48, "labelExpr": "datum.value == 5 ? 'O5' : datum.value == 10 ? 'B0' : datum.value == 20 ? 'A0' : datum.value == 30 ? 'F0' : datum.value == 40 ? 'G0' : datum.value == 50 ? 'K0' : datum.value == 60 ? 'M0' : ''", "labelFontSize": 23, "labelBaseline": "alphabetic", "labelOffset": 5, "title": "Spectral Type", "titleFontSize": 30, "titleX": 265, "titleY": 73, "titleBaseline": "alphabetic", "titleAlign": "center"}},
"y": {"field": "v", "type": "quantitative", "scale": {"domain": [-0.5, 2], "reverse": true, "nice": false, "zero": false}, "axis": {"orient": "left", "values": [-0.4,-0.2,0,0.2,0.4,0.6,0.8,1,1.2,1.4,1.6,1.8,2], "tickSize": {"condition": {"test": "datum.value % 1 === 0", "value": -17}, "value": -9}, "labelPadding": 35, "labelExpr": "datum.value % 1 === 0 ? format(datum.value, 'd') : ''", "labelFontSize": 29, "title": "B−V", "titleAngle": 0, "titleAlign": "right", "titleBaseline": "alphabetic", "titleX": -15, "titleY": 23.7, "titleFontSize": 29}},
"stroke": {"field": "s", "type": "nominal", "scale": {"domain": ["A","J","F","S"], "range": ["#0000ff","#ff0000","#000000","#00ffff"]}, "legend": null}
}}
]
},
{
"width": 492.5, "height": 385,
"data": {"name": "g_ub"},
"title": {"text": "Giants", "anchor": "end", "frame": "group", "orient": "top", "offset": -74.6, "baseline": "alphabetic", "dx": -47, "font": "DejaVu Serif", "fontSize": 23, "fontWeight": "normal", "color": "black"},
"resolve": {"axis": {"x": "independent", "y": "independent"}},
"layer": [
{"transform": [{"filter": "datum.s !== 'A'"}],
"mark": {"type": "point", "opacity": 1, "strokeWidth": 1, "filled": false},
"encoding": {
"x": {"field": "t", "type": "quantitative", "scale": {"domain": [1, 69], "nice": false, "zero": false}, "axis": {"orient": "top", "values": [5,10,15,20,25,30,35,40,45,50,55,60,65], "tickSize": -16, "labels": false, "title": null}},
"y": {"field": "v", "type": "quantitative", "scale": {"domain": [-1.3, 2], "reverse": true, "nice": false, "zero": false}, "axis": {"orient": "right", "values": [-1.2,-1,-0.8,-0.6,-0.4,-0.2,0,0.2,0.4,0.6,0.8,1,1.2,1.4,1.6,1.8,2], "tickSize": {"condition": {"test": "datum.value % 1 === 0", "value": -17}, "value": -9}, "labels": false, "title": null}},
"stroke": {"field": "s", "type": "nominal", "scale": {"domain": ["A","J","F","S"], "range": ["#0000ff","#ff0000","#000000","#00ffff"]}, "legend": null},
"fill": {"field": "s", "type": "nominal", "scale": {"domain": ["A","J","F","S"], "range": ["transparent","#ff0000","transparent","transparent"]}, "legend": null},
"shape": {"field": "s", "type": "nominal", "scale": {"domain": ["A","J","F","S"], "range": ["stroke","diamond","M-1,-1L1,1M-1,1L1,-1","diamond"]}, "legend": null},
"size": {"field": "s", "type": "nominal", "scale": {"type": "ordinal", "domain": ["A","J","F","S"], "range": [784, 56, 49, 110]}, "legend": null}
}},
{"transform": [{"filter": "datum.s === 'A'"}],
"mark": {"type": "line", "strokeWidth": 1, "interpolate": "monotone"},
"encoding": {
"x": {"field": "t", "type": "quantitative", "scale": {"domain": [1, 69], "nice": false, "zero": false}, "axis": {"orient": "bottom", "values": [5,10,15,20,25,30,35,40,45,50,55,60,65], "tickSize": -16, "labelPadding": 48, "labelExpr": "datum.value == 5 ? 'O5' : datum.value == 10 ? 'B0' : datum.value == 20 ? 'A0' : datum.value == 30 ? 'F0' : datum.value == 40 ? 'G0' : datum.value == 50 ? 'K0' : datum.value == 60 ? 'M0' : ''", "labelFontSize": 23, "labelBaseline": "alphabetic", "labelOffset": 5, "title": "Spectral Type", "titleFontSize": 30, "titleX": 265, "titleY": 70, "titleBaseline": "alphabetic", "titleAlign": "center"}},
"y": {"field": "v", "type": "quantitative", "scale": {"domain": [-1.3, 2], "reverse": true, "nice": false, "zero": false}, "axis": {"orient": "left", "values": [-1.2,-1,-0.8,-0.6,-0.4,-0.2,0,0.2,0.4,0.6,0.8,1,1.2,1.4,1.6,1.8,2], "tickSize": {"condition": {"test": "datum.value % 1 === 0", "value": -17}, "value": -9}, "labelPadding": 35, "labelExpr": "datum.value % 1 === 0 ? format(datum.value, 'd') : ''", "labelFontSize": 29, "title": "U−B", "titleAngle": 0, "titleAlign": "right", "titleBaseline": "alphabetic", "titleX": -12, "titleY": 18.3, "titleFontSize": 29}},
"stroke": {"field": "s", "type": "nominal", "scale": {"domain": ["A","J","F","S"], "range": ["#0000ff","#ff0000","#000000","#00ffff"]}, "legend": null}
}}
]
},
{
"width": 492.5, "height": 385,
"data": {"name": "g_bv"},
"title": {"text": "Giants", "anchor": "end", "frame": "group", "orient": "top", "offset": -69, "baseline": "alphabetic", "dx": -48, "font": "DejaVu Serif", "fontSize": 23, "fontWeight": "normal", "color": "black"},
"resolve": {"axis": {"x": "independent", "y": "independent"}},
"layer": [
{"transform": [{"filter": "datum.s !== 'A'"}],
"mark": {"type": "point", "opacity": 1, "strokeWidth": 1, "filled": false},
"encoding": {
"x": {"field": "t", "type": "quantitative", "scale": {"domain": [1, 69], "nice": false, "zero": false}, "axis": {"orient": "top", "values": [5,10,15,20,25,30,35,40,45,50,55,60,65], "tickSize": -16, "labels": false, "title": null}},
"y": {"field": "v", "type": "quantitative", "scale": {"domain": [-0.5, 2], "reverse": true, "nice": false, "zero": false}, "axis": {"orient": "right", "values": [-0.4,-0.2,0,0.2,0.4,0.6,0.8,1,1.2,1.4,1.6,1.8,2], "tickSize": {"condition": {"test": "datum.value % 1 === 0", "value": -17}, "value": -9}, "labels": false, "title": null}},
"stroke": {"field": "s", "type": "nominal", "scale": {"domain": ["A","J","F","S"], "range": ["#0000ff","#ff0000","#000000","#00ffff"]}, "legend": null},
"fill": {"field": "s", "type": "nominal", "scale": {"domain": ["A","J","F","S"], "range": ["transparent","#ff0000","transparent","transparent"]}, "legend": null},
"shape": {"field": "s", "type": "nominal", "scale": {"domain": ["A","J","F","S"], "range": ["stroke","diamond","M-1,-1L1,1M-1,1L1,-1","diamond"]}, "legend": null},
"size": {"field": "s", "type": "nominal", "scale": {"type": "ordinal", "domain": ["A","J","F","S"], "range": [784, 56, 49, 110]}, "legend": null}
}},
{"transform": [{"filter": "datum.s === 'A'"}],
"mark": {"type": "line", "strokeWidth": 1, "interpolate": "monotone"},
"encoding": {
"x": {"field": "t", "type": "quantitative", "scale": {"domain": [1, 69], "nice": false, "zero": false}, "axis": {"orient": "bottom", "values": [5,10,15,20,25,30,35,40,45,50,55,60,65], "tickSize": -16, "labelPadding": 48, "labelExpr": "datum.value == 5 ? 'O5' : datum.value == 10 ? 'B0' : datum.value == 20 ? 'A0' : datum.value == 30 ? 'F0' : datum.value == 40 ? 'G0' : datum.value == 50 ? 'K0' : datum.value == 60 ? 'M0' : ''", "labelFontSize": 23, "labelBaseline": "alphabetic", "labelOffset": 5, "title": "Spectral Type", "titleFontSize": 30, "titleX": 265, "titleY": 74, "titleBaseline": "alphabetic", "titleAlign": "center"}},
"y": {"field": "v", "type": "quantitative", "scale": {"domain": [-0.5, 2], "reverse": true, "nice": false, "zero": false}, "axis": {"orient": "left", "values": [-0.4,-0.2,0,0.2,0.4,0.6,0.8,1,1.2,1.4,1.6,1.8,2], "tickSize": {"condition": {"test": "datum.value % 1 === 0", "value": -17}, "value": -9}, "labelPadding": 35, "labelExpr": "datum.value % 1 === 0 ? format(datum.value, 'd') : ''", "labelFontSize": 29, "title": "B−V", "titleAngle": 0, "titleAlign": "right", "titleBaseline": "alphabetic", "titleX": -15, "titleY": 24.3, "titleFontSize": 29}},
"stroke": {"field": "s", "type": "nominal", "scale": {"domain": ["A","J","F","S"], "range": ["#0000ff","#ff0000","#000000","#00ffff"]}, "legend": null}
}}
]
},
{
"width": 492.5, "height": 385,
"data": {"name": "sg_ub"},
"title": {"text": "Supergiants (Iab)", "anchor": "end", "frame": "group", "orient": "top", "offset": -75.7, "baseline": "alphabetic", "dx": -31, "font": "DejaVu Serif", "fontSize": 23, "fontWeight": "normal", "color": "black"},
"resolve": {"axis": {"x": "independent", "y": "independent"}},
"layer": [
{"transform": [{"filter": "datum.s !== 'A'"}],
"mark": {"type": "point", "opacity": 1, "strokeWidth": 1, "filled": false},
"encoding": {
"x": {"field": "t", "type": "quantitative", "scale": {"domain": [1, 69], "nice": false, "zero": false}, "axis": {"orient": "top", "values": [5,10,15,20,25,30,35,40,45,50,55,60,65], "tickSize": {"condition": {"test": "datum.value <= 30", "value": -9}, "value": -16}, "labels": false, "title": null}},
"y": {"field": "v", "type": "quantitative", "scale": {"domain": [-1.3, 2.2], "reverse": true, "nice": false, "zero": false}, "axis": {"orient": "right", "values": [-1.2,-1,-0.8,-0.6,-0.4,-0.2,0,0.2,0.4,0.6,0.8,1,1.2,1.4,1.6,1.8,2], "tickSize": {"condition": {"test": "datum.value % 1 === 0", "value": -17}, "value": -9}, "labels": false, "title": null}},
"stroke": {"field": "s", "type": "nominal", "scale": {"domain": ["A","J","F","S"], "range": ["#0000ff","#ff0000","#000000","#00ffff"]}, "legend": null},
"fill": {"field": "s", "type": "nominal", "scale": {"domain": ["A","J","F","S"], "range": ["transparent","#ff0000","transparent","transparent"]}, "legend": null},
"shape": {"field": "s", "type": "nominal", "scale": {"domain": ["A","J","F","S"], "range": ["stroke","diamond","M-1,-1L1,1M-1,1L1,-1","diamond"]}, "legend": null},
"size": {"field": "s", "type": "nominal", "scale": {"type": "ordinal", "domain": ["A","J","F","S"], "range": [784, 56, 49, 110]}, "legend": null}
}},
{"transform": [{"filter": "datum.s === 'A'"}],
"mark": {"type": "line", "strokeWidth": 1, "interpolate": "monotone"},
"encoding": {
"x": {"field": "t", "type": "quantitative", "scale": {"domain": [1, 69], "nice": false, "zero": false}, "axis": {"orient": "bottom", "values": [5,10,15,20,25,30,35,40,45,50,55,60,65], "tickSize": {"condition": {"test": "datum.value <= 30", "value": -9}, "value": -16}, "labelPadding": {"condition": {"test": "datum.value <= 30", "value": 41}, "value": 48}, "labelExpr": "datum.value == 5 ? 'O5' : datum.value == 10 ? 'B0' : datum.value == 20 ? 'A0' : datum.value == 30 ? 'F0' : datum.value == 40 ? 'G0' : datum.value == 50 ? 'K0' : datum.value == 60 ? 'M0' : ''", "labelFontSize": 23, "labelBaseline": "alphabetic", "labelOffset": 5, "title": "Spectral Type", "titleFontSize": 30, "titleX": 265, "titleY": 68, "titleBaseline": "alphabetic", "titleAlign": "center"}},
"y": {"field": "v", "type": "quantitative", "scale": {"domain": [-1.3, 2.2], "reverse": true, "nice": false, "zero": false}, "axis": {"orient": "left", "values": [-1.2,-1,-0.8,-0.6,-0.4,-0.2,0,0.2,0.4,0.6,0.8,1,1.2,1.4,1.6,1.8,2], "tickSize": {"condition": {"test": "datum.value % 1 === 0", "value": -17}, "value": -9}, "labelPadding": 35, "labelExpr": "datum.value % 1 === 0 ? format(datum.value, 'd') : ''", "labelFontSize": 29, "title": "U−B", "titleAngle": 0, "titleAlign": "right", "titleBaseline": "alphabetic", "titleX": -12, "titleY": 17.4, "titleFontSize": 29}},
"stroke": {"field": "s", "type": "nominal", "scale": {"domain": ["A","J","F","S"], "range": ["#0000ff","#ff0000","#000000","#00ffff"]}, "legend": null}
}}
]
},
{
"width": 492.5, "height": 385,
"data": {"name": "sg_bv"},
"title": {"text": "Supergiants (Iab)", "anchor": "end", "frame": "group", "orient": "top", "offset": -70.4, "baseline": "alphabetic", "dx": -31, "font": "DejaVu Serif", "fontSize": 23, "fontWeight": "normal", "color": "black"},
"resolve": {"axis": {"x": "independent", "y": "independent"}},
"layer": [
{"transform": [{"filter": "datum.s !== 'A'"}],
"mark": {"type": "point", "opacity": 1, "strokeWidth": 1, "filled": false},
"encoding": {
"x": {"field": "t", "type": "quantitative", "scale": {"domain": [1, 69], "nice": false, "zero": false}, "axis": {"orient": "top", "values": [5,10,15,20,25,30,35,40,45,50,55,60,65], "tickSize": -16, "labels": false, "title": null}},
"y": {"field": "v", "type": "quantitative", "scale": {"domain": [-0.5, 2], "reverse": true, "nice": false, "zero": false}, "axis": {"orient": "right", "values": [-0.4,-0.2,0,0.2,0.4,0.6,0.8,1,1.2,1.4,1.6,1.8,2], "tickSize": {"condition": {"test": "datum.value % 1 === 0", "value": -17}, "value": -9}, "labels": false, "title": null}},
"stroke": {"field": "s", "type": "nominal", "scale": {"domain": ["A","J","F","S"], "range": ["#0000ff","#ff0000","#000000","#00ffff"]}, "legend": null},
"fill": {"field": "s", "type": "nominal", "scale": {"domain": ["A","J","F","S"], "range": ["transparent","#ff0000","transparent","transparent"]}, "legend": null},
"shape": {"field": "s", "type": "nominal", "scale": {"domain": ["A","J","F","S"], "range": ["stroke","diamond","M-1,-1L1,1M-1,1L1,-1","diamond"]}, "legend": null},
"size": {"field": "s", "type": "nominal", "scale": {"type": "ordinal", "domain": ["A","J","F","S"], "range": [784, 56, 49, 110]}, "legend": null}
}},
{"transform": [{"filter": "datum.s === 'A'"}],
"mark": {"type": "line", "strokeWidth": 1, "interpolate": "monotone"},
"encoding": {
"x": {"field": "t", "type": "quantitative", "scale": {"domain": [1, 69], "nice": false, "zero": false}, "axis": {"orient": "bottom", "values": [5,10,15,20,25,30,35,40,45,50,55,60,65], "tickSize": -16, "labelPadding": 48, "labelExpr": "datum.value == 5 ? 'O5' : datum.value == 10 ? 'B0' : datum.value == 20 ? 'A0' : datum.value == 30 ? 'F0' : datum.value == 40 ? 'G0' : datum.value == 50 ? 'K0' : datum.value == 60 ? 'M0' : ''", "labelFontSize": 23, "labelBaseline": "alphabetic", "labelOffset": 5, "title": "Spectral Type", "titleFontSize": 30, "titleX": 265, "titleY": 75, "titleBaseline": "alphabetic", "titleAlign": "center"}},
"y": {"field": "v", "type": "quantitative", "scale": {"domain": [-0.5, 2], "reverse": true, "nice": false, "zero": false}, "axis": {"orient": "left", "values": [-0.4,-0.2,0,0.2,0.4,0.6,0.8,1,1.2,1.4,1.6,1.8,2], "tickSize": {"condition": {"test": "datum.value % 1 === 0", "value": -17}, "value": -9}, "labelPadding": 35, "labelExpr": "datum.value % 1 === 0 ? format(datum.value, 'd') : ''", "labelFontSize": 29, "title": "B−V", "titleAngle": 0, "titleAlign": "right", "titleBaseline": "alphabetic", "titleX": -15, "titleY": 24, "titleFontSize": 29}},
"stroke": {"field": "s", "type": "nominal", "scale": {"domain": ["A","J","F","S"], "range": ["#0000ff","#ff0000","#000000","#00ffff"]}, "legend": null}
}}
]
}
],
"config": {
"view": {"stroke": "black", "strokeWidth": 1.5},
"axis": {"domain": false, "grid": false, "tickColor": "#444444", "tickWidth": 1, "labelFont": "DejaVu Serif", "labelColor": "black", "titleFont": "DejaVu Serif", "titleColor": "black", "titleFontWeight": "normal", "labelOverlap": false, "labelFlush": false, "labelBound": false},
"legend": {"labelFont": "DejaVu Serif"}
}
}
